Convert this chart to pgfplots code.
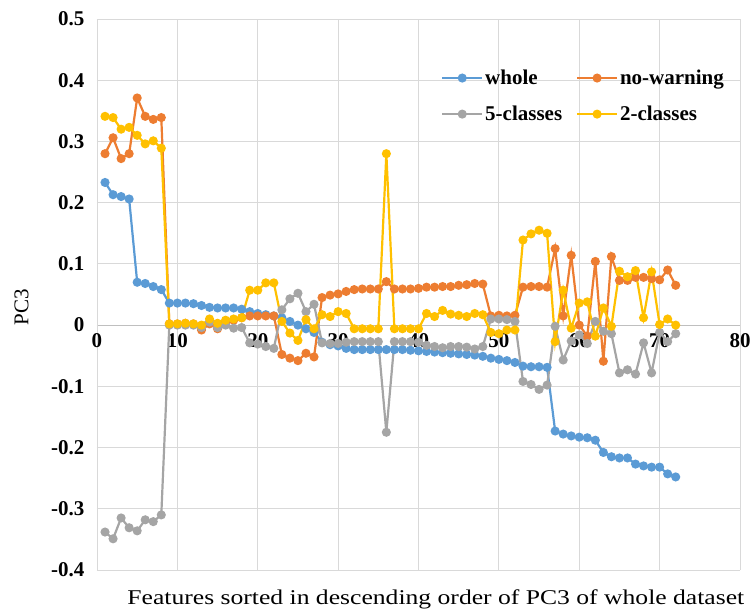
\documentclass[border=0pt]{standalone}
\usepackage{fontspec}
\setmainfont{Liberation Serif}
\usepackage{graphicx}
\usepackage{pgfplots}
\usepackage{pgfplotstable}
\pgfplotsset{compat=1.18}
\definecolor{cwhole}{HTML}{5B9BD5}
\definecolor{cnowarn}{HTML}{ED7D31}
\definecolor{cfive}{HTML}{A5A5A5}
\definecolor{ctwo}{HTML}{FFC000}
\definecolor{cgrid}{HTML}{D9D9D9}
\definecolor{caxis}{HTML}{BFBFBF}

\pgfplotstableread{
x whole nowarn five two
1 0.233 0.280 -0.338 0.341
2 0.213 0.306 -0.349 0.339
3 0.210 0.272 -0.315 0.320
4 0.206 0.280 -0.331 0.323
5 0.070 0.371 -0.336 0.310
6 0.068 0.341 -0.318 0.296
7 0.063 0.336 -0.321 0.301
8 0.058 0.339 -0.310 0.289
9 0.036 0.002 0.000 0.002
10 0.036 0.002 0.000 0.002
11 0.036 0.003 0.000 0.003
12 0.035 0.002 0.000 0.002
13 0.032 -0.008 -0.004 0.000
14 0.029 0.002 0.005 0.010
15 0.028 -0.006 -0.004 0.003
16 0.028 0.004 0.000 0.008
17 0.028 0.008 -0.005 0.010
18 0.026 0.012 -0.004 0.012
19 0.022 0.015 -0.029 0.057
20 0.019 0.015 -0.031 0.057
21 0.017 0.015 -0.035 0.069
22 0.015 0.015 -0.038 0.069
23 0.012 -0.048 0.025 0.006
24 0.006 -0.054 0.043 -0.013
25 0.000 -0.058 0.052 -0.025
26 -0.006 -0.046 0.022 0.009
27 -0.012 -0.052 0.034 -0.006
28 -0.028 0.045 -0.029 0.017
29 -0.032 0.049 -0.030 0.014
30 -0.034 0.051 -0.030 0.022
31 -0.038 0.055 -0.028 0.019
32 -0.040 0.058 -0.027 -0.006
33 -0.040 0.059 -0.027 -0.006
34 -0.040 0.059 -0.027 -0.006
35 -0.040 0.059 -0.027 -0.006
36 -0.040 0.071 -0.175 0.280
37 -0.040 0.059 -0.027 -0.006
38 -0.040 0.059 -0.027 -0.006
39 -0.041 0.059 -0.027 -0.006
40 -0.042 0.060 -0.028 -0.006
41 -0.043 0.062 -0.033 0.019
42 -0.044 0.062 -0.035 0.014
43 -0.045 0.063 -0.037 0.024
44 -0.046 0.063 -0.035 0.018
45 -0.047 0.065 -0.035 0.016
46 -0.048 0.066 -0.036 0.014
47 -0.049 0.068 -0.039 0.019
48 -0.051 0.067 -0.035 0.017
49 -0.054 0.015 0.010 -0.012
50 -0.056 0.016 0.010 -0.014
51 -0.058 0.015 0.009 -0.008
52 -0.061 0.016 0.006 -0.008
53 -0.067 0.062 -0.092 0.139
54 -0.068 0.063 -0.097 0.149
55 -0.068 0.063 -0.105 0.155
56 -0.069 0.062 -0.098 0.150
57 -0.173 0.125 -0.002 -0.027
58 -0.178 0.015 -0.057 0.057
59 -0.181 0.114 -0.026 -0.005
60 -0.183 0.000 -0.016 0.036
61 -0.184 -0.018 -0.030 0.038
62 -0.188 0.104 0.006 -0.018
63 -0.208 -0.059 -0.010 0.028
64 -0.215 0.112 -0.014 -0.002
65 -0.217 0.073 -0.078 0.088
66 -0.217 0.073 -0.073 0.079
67 -0.227 0.078 -0.080 0.089
68 -0.230 0.078 -0.029 0.012
69 -0.232 0.076 -0.078 0.087
70 -0.232 0.074 -0.012 0.001
71 -0.243 0.090 -0.027 0.010
72 -0.248 0.065 -0.014 0.000
}\datatable

\begin{document}
\begin{tikzpicture}
\begin{axis}[
  scale only axis,
  width=643bp, height=551bp,
  xmin=0, xmax=80, ymin=-0.4, ymax=0.5,
  axis x line=middle, axis y line=left,
  axis line style={-},
  x axis line style={draw=caxis, line width=1.2bp},
  y axis line style={draw=cgrid, line width=0.9bp},
  xtick={0,10,...,80},
  xticklabels={0,10,20,30,40,50,60,70,80},
  ytick={-0.4,-0.3,-0.2,-0.1,0,0.1,0.2,0.3,0.4,0.5},
  yticklabels={-0.4,-0.3,-0.2,-0.1,0,0.1,0.2,0.3,0.4,0.5},
  hide obscured x ticks=false,
  hide obscured y ticks=false,
  major tick length=0pt,
  grid=major,
  major grid style={draw=cgrid, line width=0.9bp},
  tick label style={font=\fontsize{21bp}{25bp}\selectfont\bfseries},
  yticklabel style={xshift=-9bp},
  xticklabel style={yshift=-5bp},
  ylabel={PC3},
  xlabel={\scalebox{1.22}[1]{Features sorted in descending order of PC3 of whole dataset}},
  every axis y label/.style={at={(axis description cs:-0.106,0.477)},anchor=south,rotate=90,inner sep=0pt,font=\fontsize{21bp}{25bp}\selectfont},
  every axis x label/.style={at={(axis description cs:0.527,-0.036)},anchor=north,inner sep=0pt,font=\fontsize{21bp}{25bp}\selectfont},
  legend columns=2,
  legend cell align=left,
  legend style={at={(axis description cs:0.983,0.915)},anchor=north east,draw=none,fill=none,
    font=\fontsize{21bp}{25bp}\selectfont\bfseries,
    /tikz/every even column/.append style={column sep=12bp},
    row sep=16bp},
  legend image code/.code={\draw[mark repeat=2,mark phase=2] plot coordinates {(0cm,0cm) (0.7cm,0cm) (1.4cm,0cm)};},
  every axis plot/.append style={line width=2.2bp, mark=*, mark size=3.4bp},
  clip=false,
]
\addplot[color=cwhole, mark options={fill=cwhole, draw=cwhole}] table[x=x,y=whole] {\datatable};
\addlegendentry{whole}
\addplot[color=cnowarn, mark options={fill=cnowarn, draw=cnowarn}] table[x=x,y=nowarn] {\datatable};
\addlegendentry{no-warning}
\addplot[color=cfive, mark options={fill=cfive, draw=cfive}] table[x=x,y=five] {\datatable};
\addlegendentry{5-classes}
\addplot[color=ctwo, mark options={fill=ctwo, draw=ctwo}] table[x=x,y=two] {\datatable};
\addlegendentry{2-classes}
\end{axis}
\pgfresetboundingbox
\path[use as bounding box] ([xshift=-97bp,yshift=-42bp]current axis.south west) rectangle ([xshift=15bp,yshift=19bp]current axis.north east);
\end{tikzpicture}
\end{document}
